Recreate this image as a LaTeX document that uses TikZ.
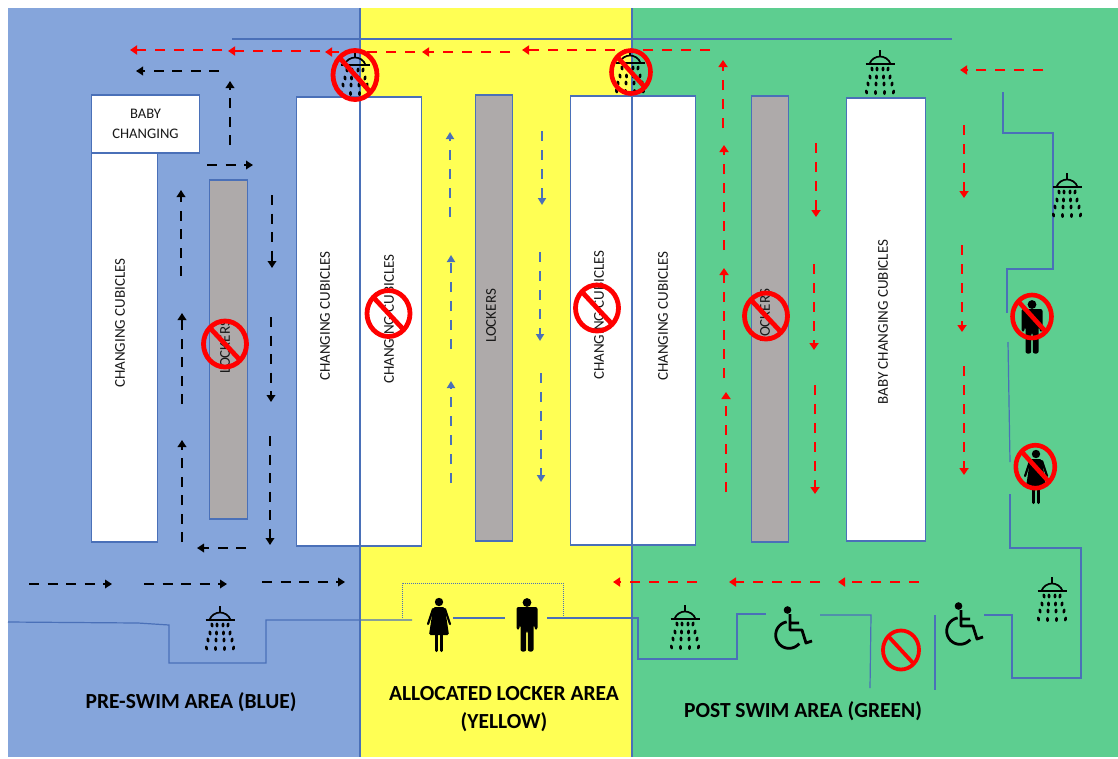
\documentclass[tikz,border=0pt]{standalone}
\usepackage{fontspec}
\setmainfont{Carlito}
\usetikzlibrary{arrows.meta}
\definecolor{zblue}{HTML}{85A5DB}
\definecolor{zyellow}{HTML}{FFFF54}
\definecolor{zgreen}{HTML}{5DCE90}
\definecolor{zgrey}{HTML}{AEAAAA}
\definecolor{zline}{HTML}{4A70B8}
\tikzset{
  room/.style={draw=zline,line width=1.1pt,fill=white,inner sep=0pt,outer sep=0pt},
  lockerbox/.style={room,fill=zgrey},
  vtext/.style={rotate=90,font=\fontsize{15}{17}\selectfont,inner sep=0pt,text=black!90},
  title/.style={font=\bfseries\fontsize{21.5}{28}\selectfont,inner sep=0pt,align=center,text=black},
  wall/.style={draw=zline,line width=1.2pt},
  flowk/.style={draw=black,line width=2.4pt,dash pattern=on 10pt off 8.5pt,-{Triangle[length=7pt,width=8.5pt]}},
  flowr/.style={draw=red,line width=2.4pt,dash pattern=on 10pt off 9pt,-{Triangle[length=7pt,width=9pt]}},
  flowb/.style={draw=zline,line width=2pt,dash pattern=on 10pt off 9pt,-{Triangle[length=7pt,width=8pt]}},
}
\newcommand{\zshower}[2]{\begin{scope}[shift={(#1,#2)}]
  \draw[black,line width=1.8pt] (-14.5,-8)--(14.5,-8) (0,-22)--(0,-15);
  \draw[black,line width=1.7pt] (-10.5,-8) .. controls (-9,-13) and (-4,-15.5) .. (0,-15.5) .. controls (4,-15.5) and (9,-13) .. (10.5,-8);
  \foreach \px/\py/\pr in {-8/-3/8,-3/-3/3,3/-3/-3,8/-3/-8,-10/5/10,-3.5/5/4,3.5/5/-4,10/5/-10,-12/12/12,-4/12/4,4/12/-4,12/12/-12,-13.5/20/14,-4.5/20.5/4,4.5/20.5/-4,13.5/20/-14}
    \fill[black,rotate around={\pr:(\px,\py)}] (\px,\py) ellipse [x radius=1.5pt,y radius=2.4pt];
\end{scope}}
\newcommand{\zwoman}[2]{\begin{scope}[shift={(#1,#2)}]
  \fill[black] (0,-23) circle[radius=4.2pt];
  \fill[black,rounded corners=1.5pt] (-5.5,-18)--(5.5,-18)--(7,-10)--(10,10)--(-10,10)--(-7,-10)--cycle;
  \draw[black,line width=2.2pt,line cap=round] (-6,-16)--(-11,-1) (6,-16)--(11,-1);
  \draw[black,line width=3.2pt,line cap=round] (-2.6,9)--(-2.6,25.5) (2.6,9)--(2.6,25.5);
\end{scope}}
\newcommand{\zman}[2]{\begin{scope}[shift={(#1,#2)}]
  \fill[black] (0,-22.5) circle[radius=4.4pt];
  \fill[black,rounded corners=2pt] (-10.5,-18)--(10.5,-18)--(10.5,4.5)--(7.5,4.5)--(7.5,0)--(6.5,0)--(6.5,26.5)--(0.8,26.5)--(0.8,6)--(-0.8,6)--(-0.8,26.5)--(-6.5,26.5)--(-6.5,0)--(-7.5,0)--(-7.5,4.5)--(-10.5,4.5)--cycle;
\end{scope}}
\newcommand{\zchair}[2]{\begin{scope}[shift={(#1,#2)}]
  \fill[black] (-1.5,-25) circle[radius=3.8pt];
  \draw[black,line width=2.8pt] plot[domain=-320:-100,samples=40,smooth] ({13.3*cos(\x)},{13.3*sin(\x)});
  \draw[black,line width=2.8pt,line join=round] (1,-21)--(1,-5)--(13,-5)--(17,8)--(23,6) (1,-12)--(10,-12);
\end{scope}}
\newcommand{\znosign}[5]{\begin{scope}[shift={(#1,#2)}]
  \draw[red,line width=#5pt] (0,0) ellipse [x radius=#3pt,y radius=#4pt];
  \draw[red,line width=#5pt] (-0.707*#3,-0.707*#4)--(0.707*#3,0.707*#4);
\end{scope}}
\begin{document}
\begin{tikzpicture}[x=1pt,y=-1pt]
\useasboundingbox (0,0) rectangle (1118,758);
% zones
\fill[zblue] (8,8) rectangle (360,757);
\fill[zyellow] (360,8) rectangle (632,757);
\fill[zgreen] (632,8) rectangle (1118,757);
% top wall
\draw[wall,line width=1.5pt] (232,39)--(952,39);
% rooms
\node[room,minimum width=66pt,minimum height=389pt] (c1) at (124.5,347.5) {};
\node[room,minimum width=108pt,minimum height=58pt,align=center,font=\fontsize{14.6}{20}\selectfont,text=black!90] (baby) at (145.5,124) {BABY\\CHANGING};
\node[lockerbox,minimum width=38pt,minimum height=339pt] (l1) at (228.8,349.5) {};
\node[room,minimum width=63pt,minimum height=449pt] (c2) at (328.2,321.5) {};
\node[room,minimum width=62pt,minimum height=449pt] (c3) at (390.8,321.5) {};
\node[lockerbox,minimum width=37pt,minimum height=446pt] (l2) at (494.2,318) {};
\node[room,minimum width=62pt,minimum height=449pt] (c4) at (601.7,320.5) {};
\node[room,minimum width=63pt,minimum height=449pt] (c5) at (664.2,320.5) {};
\node[lockerbox,minimum width=37pt,minimum height=446pt] (l3) at (770.2,319) {};
\node[room,minimum width=79pt,minimum height=443pt] (c6) at (886.2,319.5) {};
% zone dividers
\draw[wall] (360,8)--(360,757) (632,8)--(632,757);
% room labels
\node[vtext] (t1) at (120,323) {CHANGING CUBICLES};
\node[vtext] (t2) at (225,347) {LOCKERS};
\node[vtext] (t3) at (325,316) {CHANGING CUBICLES};
\node[vtext] (t4) at (389,319) {CHANGING CUBICLES};
\node[vtext] (t5) at (491,316) {LOCKERS};
\node[vtext] (t6) at (599,315) {CHANGING CUBICLES};
\node[vtext] (t7) at (663,316) {CHANGING CUBICLES};
\node[vtext] (t8) at (765,316) {LOCKERS};
\node[vtext] (t9) at (883,322) {BABY CHANGING CUBICLES};
% walls
\draw[wall] (8,622)--(138,623)--(169,625)--(169,663)--(266,663)--(266,620)--(412,620);
\draw[wall] (453,618)--(505,618);
\draw[wall] (547,618)--(638,618)--(638,659)--(737,659)--(737,614)--(766,614);
\draw[wall] (820,615)--(871,615)--(870,688);
\draw[wall] (935,615)--(935,690);
\draw[wall] (984,615)--(1012,615)--(1012,678)--(1081,678)--(1081,548)--(1010,548)--(1010,494);
\draw[wall] (1003,92)--(1003,133)--(1053,133)--(1053,269)--(1007,269)--(1007,313);
\draw[wall] (1008,342)--(1010,462);
\draw[draw=zline,line width=1pt,densely dotted] (402,618)--(402,583)--(563,583)--(563,616);
% black flow
\draw[flowk] (29,584)--(112,584);
\draw[flowk] (144,584)--(227,584);
\draw[flowk] (262,582)--(345,582);
\draw[flowk] (246,548)--(197,548);
\draw[flowk] (182,542)--(182,440);
\draw[flowk] (182,404)--(182,313);
\draw[flowk] (181,276)--(181,190);
\draw[flowk] (272,195)--(272,268);
\draw[flowk] (271,317)--(271,402);
\draw[flowk] (270,436)--(270,545);
\draw[flowk] (207,165)--(253,165);
\draw[flowk] (230,145)--(230,81);
\draw[flowk] (219,71)--(136,71);
% red flow
\draw[flowr] (222,50)--(130,50);
\draw[flowr] (320,51)--(228,51);
\draw[flowr] (415,52)--(325,52);
\draw[flowr] (510,52)--(422,52);
\draw[flowr] (710,50)--(522,50);
\draw[flowr] (726,492)--(726,392);
\draw[flowr] (724,378)--(724,268);
\draw[flowr] (724,250)--(724,145);
\draw[flowr] (723,128)--(723,60);
\draw[flowr] (816,143)--(816,217);
\draw[flowr] (814,264)--(814,350);
\draw[flowr] (815,385)--(815,494);
\draw[flowr] (964,125)--(964,198);
\draw[flowr] (962,245)--(962,332);
\draw[flowr] (964,366)--(964,475);
\draw[flowr] (1043,70)--(960,70);
\draw[flowr] (919,582)--(838,582);
\draw[flowr] (820,582)--(729,582);
\draw[flowr] (697,582)--(613,582);
% blue flow
\draw[flowb] (451,483)--(451,381);
\draw[flowb] (451,349)--(451,255);
\draw[flowb] (450,217)--(450,132);
\draw[flowb] (542,131)--(542,205);
\draw[flowb] (540,252)--(540,341);
\draw[flowb] (541,373)--(541,482);
% icons
\zshower{355}{73}
\zshower{630}{71}
\zshower{880}{72}
\zshower{1067}{195}
\zshower{220}{628}
\zshower{685}{627}
\zshower{1052}{599}
\zwoman{439}{625}
\zman{527}{625}
\zman{1032}{327}
\zwoman{1036}{477}
\zchair{789}{635}
\zchair{960}{631}
\znosign{355}{75}{22}{24.5}{4.8}
\znosign{631}{72}{19.5}{21.5}{4.6}
\znosign{388.5}{313.5}{21.5}{23}{4.8}
\znosign{597}{308}{21.5}{23}{4.8}
\znosign{766}{316}{21.5}{23}{4.8}
\znosign{225}{344}{21.5}{23}{4.8}
\znosign{1032}{316.5}{19.5}{21.5}{4.6}
\znosign{1035.3}{466.7}{19.5}{21.5}{4.6}
\znosign{901}{650}{18}{19.5}{3.8}
% titles
\node[title] (a) at (191,702) {PRE-SWIM AREA (BLUE)};
\node[title] (b) at (504,709) {ALLOCATED LOCKER AREA\\(YELLOW)};
\node[title] (c) at (803,711) {POST SWIM AREA (GREEN)};
\end{tikzpicture}
\end{document}
